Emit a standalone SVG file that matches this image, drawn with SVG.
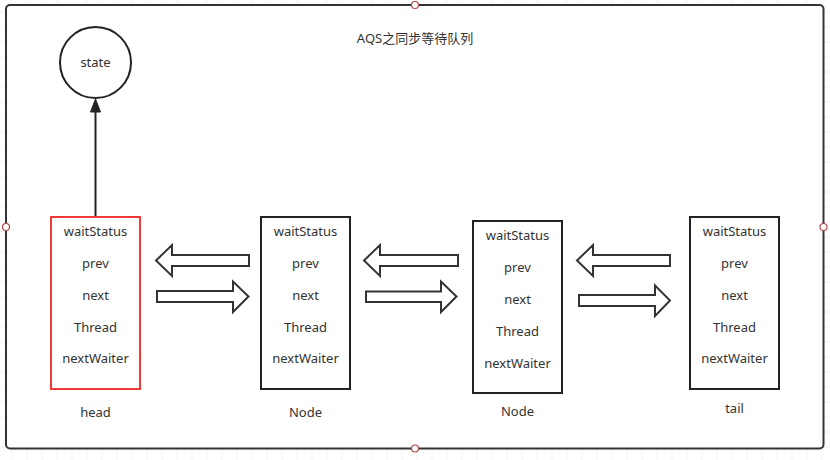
<svg xmlns="http://www.w3.org/2000/svg" width="830" height="460" viewBox="0 0 830 460">
<style>
text{font-family:"Noto Sans","Liberation Sans",sans-serif;font-size:13px;fill:#333;text-anchor:middle;dominant-baseline:central}
.title{font-family:"Noto Sans","Noto Sans CJK SC",sans-serif}
.box{fill:#fff;stroke:#222;stroke-width:2}
.red{fill:#fff;stroke:#f03a3a;stroke-width:2}
.blk{fill:#fff;stroke:#333;stroke-width:2;stroke-linejoin:miter}
.handle{fill:#fff;stroke:#b04848;stroke-width:1.2}
</style>
<defs>
<pattern id="grid" patternUnits="userSpaceOnUse" x="11.5" y="11.5" width="15" height="15">
<path d="M0 0H15M0 0V15" fill="none" stroke="#e6e6e6" stroke-width="1"/>
</pattern>
</defs>
<rect width="830" height="460" fill="#fff"/>
<rect width="830" height="460" fill="url(#grid)"/>
<g id="container">
<rect x="6" y="5" width="817.5" height="443.5" rx="4" fill="#fff" stroke="#333" stroke-width="2"/>
<circle class="handle" cx="415" cy="5" r="3.5"/>
<circle class="handle" cx="6" cy="227" r="3.5"/>
<circle class="handle" cx="823.5" cy="227" r="3.5"/>
<circle class="handle" cx="415" cy="448.5" r="3.5"/>
</g>
<text class="title" x="415" y="37.5">AQS之同步等待队列</text>
<g id="state">
<circle class="box" cx="95.5" cy="62.5" r="35.5"/>
<text x="95.5" y="62">state</text>
</g>
<g id="head">
<rect class="red" x="51" y="217" width="89" height="172"/>
<text x="95.5" y="230.5">waitStatus</text>
<text x="95.5" y="262.5">prev</text>
<text x="95.5" y="294.5">next</text>
<text x="95.5" y="326.5">Thread</text>
<text x="95.5" y="358">nextWaiter</text>
<text x="95.5" y="412">head</text>
</g>
<g id="node1">
<rect class="box" x="261" y="217" width="89" height="172"/>
<text x="305.5" y="230.5">waitStatus</text>
<text x="305.5" y="262.5">prev</text>
<text x="305.5" y="294.5">next</text>
<text x="305.5" y="326.5">Thread</text>
<text x="305.5" y="358">nextWaiter</text>
<text x="305.5" y="412">Node</text>
</g>
<g id="node2">
<rect class="box" x="473" y="221" width="89" height="172"/>
<text x="517.5" y="234.5">waitStatus</text>
<text x="517.5" y="267">prev</text>
<text x="517.5" y="299">next</text>
<text x="517.5" y="330.5">Thread</text>
<text x="517.5" y="362.5">nextWaiter</text>
<text x="517.5" y="411">Node</text>
</g>
<g id="tail">
<rect class="box" x="690" y="217" width="89" height="172"/>
<text x="734.5" y="230.5">waitStatus</text>
<text x="734.5" y="262.5">prev</text>
<text x="734.5" y="294.5">next</text>
<text x="734.5" y="326.5">Thread</text>
<text x="734.5" y="358">nextWaiter</text>
<text x="734.5" y="408">tail</text>
</g>
<g id="connectors">
<line x1="95.5" y1="216" x2="95.5" y2="110" stroke="#222" stroke-width="2"/>
<polygon points="95.5,99 100.5,112 90.5,112" fill="#222" stroke="#222" stroke-width="1"/>
<polygon class="blk" points="156,260.5 172,245 172,255 249,255 249,266 172,266 172,276"/>
<polygon class="blk" points="157,291 233,291 233,281.5 248.5,296.5 233,312 233,302 157,302"/>
<polygon class="blk" points="364,260.5 380,245 380,255 458,255 458,266 380,266 380,276"/>
<polygon class="blk" points="366,291.5 441,291.5 441,281.5 456.5,296.5 441,312 441,302 366,302"/>
<polygon class="blk" points="577,260.5 593,245 593,255 670,255 670,266 593,266 593,276"/>
<polygon class="blk" points="579,295 655,295 655,285.5 670,300.5 655,316 655,306 579,306"/>
</g>
</svg>
